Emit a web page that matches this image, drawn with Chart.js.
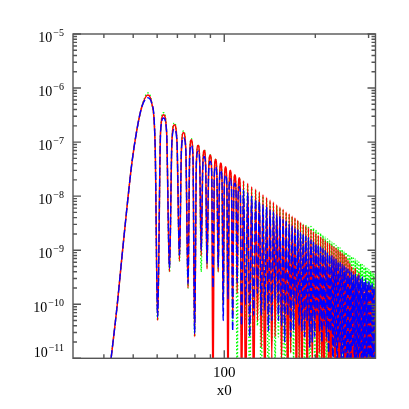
<!DOCTYPE html>
<html>
<head>
<meta charset="utf-8">
<script src="https://cdn.jsdelivr.net/npm/chart.js@4"></script>
<style>
  html, body { margin: 0; padding: 0; background: #fff; }
  canvas { display: block; }
</style>
</head>
<body>
<canvas id="chart" width="409" height="409"></canvas>
<script>
// first lobe, rising and falling sides (shared by the three curves)
const riseX = [41.0, 42.3, 44.2, 45.9, 47.7, 49.5, 51.4, 53.4];
const riseY = [2.5e-12, 1.05e-11, 8.9e-11, 7.6e-10, 6.3e-9, 4.1e-8, 1.66e-7, 4.5e-7];
const fallX = [57.6, 59.1];
const fallY = [5.2e-7, 8.1e-8];

// lobe maxima positions and zero crossings
const peakX = [55.9, 63.0, 68.4, 73.3, 77.8, 82.0, 85.9, 89.9, 93.6, 97.4,
  101.0, 104.7, 108.4, 112.1, 115.8, 119.5, 123.2, 126.9, 130.6, 134.3,
  138.0, 141.7, 145.4, 149.1, 152.8, 156.5, 160.2, 163.9, 167.6, 171.3,
  175.0, 178.7, 182.4, 186.1, 189.8, 193.5, 197.2, 200.9, 204.6, 208.3,
  212.0, 215.7, 219.4, 223.1, 226.8, 230.5, 234.2, 237.9, 241.6, 245.3,
  249.0, 252.7, 256.4, 260.1, 263.8, 267.5, 271.2, 274.9, 278.6, 282.3,
  286.0, 289.7, 293.4, 297.1, 300.8, 304.5, 308.2, 311.9, 315.6];
const zeroX = [60.2, 65.9, 71.1, 75.9, 79.8, 83.9, 87.7, 91.8, 95.5,
  99.2, 102.9, 106.6, 110.3, 114.0, 117.7, 121.4, 125.1, 128.8, 132.5,
  136.2, 139.9, 143.6, 147.3, 151.0, 154.7, 158.4, 162.1, 165.8, 169.5,
  173.2, 176.9, 180.6, 184.3, 188.0, 191.7, 195.4, 199.1, 202.8, 206.5,
  210.2, 213.9, 217.6, 221.3, 225.0, 228.7, 232.4, 236.1, 239.8, 243.5,
  247.2, 250.9, 254.6, 258.3, 262.0, 265.7, 269.4, 273.1, 276.8, 280.5,
  284.2, 287.9, 291.6, 295.3, 299.0, 302.7, 306.4, 310.1, 313.8];

// shoulders of the wide lobes 2..14
const shoulderLX = [61.6, 67.15, 72.2, 76.85, 80.9, 84.9, 88.8, 92.7, 96.45, 100.1, 103.8, 107.5, 111.2];
const shoulderRX = [64.45, 69.75, 74.6, 78.8, 82.95, 86.8, 90.85, 94.55, 98.3, 101.95, 105.65, 109.35, 113.05];
const shoulderY = [1.6e-7, 1.05e-7, 7.5e-8, 5.5e-8, 4.3e-8, 3.5e-8, 2.9e-8, 2.4e-8, 2.0e-8, 1.75e-8, 1.5e-8, 1.25e-8, 1.1e-8];

const redPeaks = [7.4e-7, 3.2e-7, 2.1e-7, 1.5e-7, 1.1e-7, 8.7e-8, 7.1e-8, 5.8e-8, 4.8e-8, 4.1e-8,
  3.5e-8, 3.0e-8, 2.5e-8, 2.2e-8, 1.95e-8, 1.74e-8, 1.51e-8, 1.35e-8, 1.2e-8, 1.07e-8,
  9.5e-9, 8.5e-9, 7.8e-9, 6.9e-9, 6.3e-9, 5.75e-9, 5.1e-9, 4.7e-9, 4.3e-9, 4.0e-9,
  3.6e-9, 3.3e-9, 3.0e-9, 2.8e-9, 2.6e-9, 2.4e-9, 2.2e-9, 2.05e-9, 1.9e-9, 1.78e-9,
  1.66e-9, 1.5e-9, 1.4e-9, 1.32e-9, 1.23e-9, 1.17e-9, 1.1e-9, 1.02e-9, 9.5e-10, 8.9e-10,
  8.3e-10, 7.6e-10, 6.6e-10, 5.75e-10, 5.0e-10, 4.2e-10, 4.7e-10, 3.4e-10, 3.8e-10, 2.6e-10,
  3.0e-10, 2.4e-10, 2.6e-10, 2.1e-10, 2.35e-10, 1.9e-10, 2.1e-10, 1.66e-10, 1.8e-10];
const bluePeaks = [6.6e-7, 2.8e-7, 1.74e-7, 1.2e-7, 8.7e-8, 6.8e-8, 5.4e-8, 4.4e-8, 3.5e-8, 3.0e-8,
  2.45e-8, 2.1e-8, 1.74e-8, 1.5e-8, 1.29e-8, 1.15e-8, 1.0e-8, 8.7e-9, 7.9e-9, 6.9e-9,
  6.3e-9, 5.5e-9, 5.1e-9, 4.5e-9, 4.2e-9, 3.7e-9, 3.4e-9, 3.0e-9, 2.8e-9, 2.5e-9,
  2.4e-9, 2.1e-9, 2.0e-9, 1.82e-9, 1.7e-9, 1.55e-9, 1.45e-9, 1.32e-9, 1.26e-9, 1.15e-9,
  1.07e-9, 9.8e-10, 9.1e-10, 8.3e-10, 7.9e-10, 7.2e-10, 6.8e-10, 6.2e-10, 5.9e-10, 5.4e-10,
  5.1e-10, 4.7e-10, 4.5e-10, 4.1e-10, 3.9e-10, 3.5e-10, 3.6e-10, 3.2e-10, 3.4e-10, 2.9e-10,
  3.2e-10, 2.6e-10, 2.95e-10, 2.4e-10, 2.75e-10, 2.2e-10, 2.5e-10, 2.0e-10, 2.3e-10];
const greenPeaks = [8.1e-7, 3.5e-7, 2.25e-7, 1.6e-7, 1.15e-7, 8.9e-8, 7.2e-8, 5.8e-8, 4.8e-8, 4.0e-8,
  3.2e-8, 2.75e-8, 2.35e-8, 2.1e-8, 1.82e-8, 1.62e-8, 1.41e-8, 1.26e-8, 1.12e-8, 1.0e-8,
  8.9e-9, 7.9e-9, 7.2e-9, 6.5e-9, 5.9e-9, 5.4e-9, 4.9e-9, 4.5e-9, 4.1e-9, 3.8e-9,
  3.5e-9, 3.2e-9, 3.0e-9, 2.9e-9, 2.8e-9, 2.75e-9, 2.55e-9, 2.35e-9, 2.2e-9, 2.05e-9,
  1.86e-9, 1.74e-9, 1.62e-9, 1.51e-9, 1.41e-9, 1.32e-9, 1.23e-9, 1.15e-9, 1.1e-9, 1.02e-9,
  9.5e-10, 9.1e-10, 8.5e-10, 7.9e-10, 7.6e-10, 7.1e-10, 6.8e-10, 6.3e-10, 6.0e-10, 5.6e-10,
  5.4e-10, 5.1e-10, 4.8e-10, 4.6e-10, 4.4e-10, 4.1e-10, 3.9e-10, 3.7e-10, 3.55e-10];

const blueTroughs = [5.8e-11, 4.7e-10, 8.1e-10, 2.4e-10, 2.9e-11, 1.0e-9, 5.6e-10, 2.0e-10, 4.9e-10, 5.0e-11,
  1.26e-10, 3.2e-11, 2.5e-10, 4.0e-11, 1.0e-10, 2.5e-11, 6.3e-11, 1.6e-10, 6.3e-11, 7.9e-11,
  3.2e-11, 5.0e-11, 1.26e-10, 5.0e-11, 4.0e-11, 2.0e-11, 6.3e-11, 2.5e-11, 3.2e-11, 1.0e-10,
  4.0e-11, 3.2e-11, 2.5e-11, 5.0e-11, 1.6e-11, 2.0e-11, 2.5e-11, 6.3e-11, 3.2e-11, 2.0e-11,
  4.0e-11, 2.5e-11, 1.26e-11, 3.2e-11, 5.0e-12, 1.6e-11, 2.5e-12, 2.0e-11, 7.9e-12, 3.2e-12,
  1.26e-11, 5.0e-12, 1.0e-11, 2.5e-12, 1.6e-11, 4.0e-12, 7.9e-12, 2.0e-12, 1.26e-11, 3.2e-12,
  6.3e-12, 2.5e-12, 1.0e-11, 4.0e-12, 2.0e-12, 6.3e-12, 3.2e-12, 5.0e-12];
const redTroughs = [5.0e-11, 4.0e-10, 6.3e-10, 2.0e-10, 2.5e-11, 7.9e-10, 4.5e-10, 1e-12, 4.0e-10, 1.0e-10,
  1e-12, 6.3e-11, 1.6e-10, 1e-12, 1e-12, 3.2e-11, 1e-12, 5.0e-11, 1.6e-11, 1e-12,
  4.0e-11, 1.0e-11, 2.5e-11, 6.3e-11, 7.9e-12, 3.2e-11, 1e-12, 1.26e-11, 4.0e-11, 1e-12,
  1.0e-11, 1e-12, 2.5e-11, 1e-12, 1.6e-11, 6.3e-12, 3.2e-11, 1e-12, 1.26e-11, 5.0e-12,
  1e-12, 2.0e-11, 4.0e-12, 1e-12, 1.26e-11, 3.2e-12, 1.0e-11, 1e-12, 5.0e-12, 1.26e-11,
  1e-12, 4.0e-12, 1.0e-11, 1e-12, 5.0e-12, 2.5e-12, 1e-12, 6.3e-12, 3.2e-12, 1e-12,
  7.9e-12, 2.0e-12, 1e-12, 4.0e-12, 1.6e-12, 1e-12, 5.0e-12, 2.0e-12];
const greenTroughs = [5.0e-11, 4.0e-10, 6.3e-10, 2.0e-10, 2.5e-11, 4.0e-10, 5.0e-10, 1.6e-10, 4.0e-10, 1.0e-10,
  7.9e-11, 4.0e-11, 1e-12, 2.5e-11, 5.0e-11, 1e-12, 1.6e-11, 4.0e-11, 1e-12, 1.26e-11,
  1e-12, 2.0e-11, 7.9e-12, 2.5e-11, 5.0e-12, 1e-12, 1e-12, 1.26e-11, 1.0e-11, 2.0e-11,
  4.0e-12, 1.6e-11, 3.2e-12, 1.0e-11, 1e-12, 1.26e-11, 5.0e-12, 1.0e-11, 1e-12, 6.3e-12,
  1.26e-11, 2.5e-12, 1e-12, 7.9e-12, 3.2e-12, 1e-12, 6.3e-12, 4.0e-12, 1e-12, 5.0e-12,
  2.5e-12, 1e-12, 6.3e-12, 3.2e-12, 1e-12, 5.0e-12, 2.0e-12, 1e-12, 4.0e-12, 2.5e-12,
  1e-12, 3.2e-12, 1.6e-12, 1e-12, 2.5e-12, 1e-12, 3.2e-12, 1.6e-12];

// axis ticks and labels
const xTicks = [40, 50, 60, 70, 80, 90, 100, 200, 300];
const xLabels = {100: '100'};
const yExponents = [-5, -6, -7, -8, -9, -10, -11];
const xTitle = 'x0';

function buildSeries(peaks, troughs) {
  const pts = riseX.map((x, i) => ({x: x, y: riseY[i]}));
  pts.push({x: peakX[0], y: peaks[0]});
  fallX.forEach((x, i) => pts.push({x: x, y: fallY[i]}));
  for (let k = 1; k < peakX.length; k++) {
    pts.push({x: zeroX[k - 1], y: troughs[k - 1]});
    const s = k - 1;
    if (s < shoulderY.length) pts.push({x: shoulderLX[s], y: shoulderY[s]});
    pts.push({x: peakX[k], y: peaks[k]});
    if (s < shoulderY.length) pts.push({x: shoulderRX[s], y: shoulderY[s]});
  }
  return pts;
}

const axesPlugin = {
  id: 'smAxes',
  afterDraw(chart) {
    const ctx = chart.ctx;
    const a = chart.chartArea;
    const xs = chart.scales.x, ys = chart.scales.y;
    ctx.save();
    ctx.strokeStyle = '#555';
    ctx.lineWidth = 1.4;
    ctx.strokeRect(a.left, a.top, a.right - a.left, a.bottom - a.top);

    ctx.beginPath();
    xTicks.forEach(v => {
      const px = xs.getPixelForValue(v);
      const len = xLabels[v] ? 8 : 4;
      ctx.moveTo(px, a.bottom); ctx.lineTo(px, a.bottom - len);
      ctx.moveTo(px, a.top); ctx.lineTo(px, a.top + len);
    });
    yExponents.forEach(e => {
      for (let m = 1; m <= 9; m++) {
        if (m > 1 && e - 1 < -11) continue;
        const py = ys.getPixelForValue(m === 1 ? Math.pow(10, e) : m * Math.pow(10, e - 1));
        const len = m === 1 ? 8 : 4;
        ctx.moveTo(a.left, py); ctx.lineTo(a.left + len, py);
        ctx.moveTo(a.right, py); ctx.lineTo(a.right - len, py);
      }
    });
    ctx.stroke();

    ctx.fillStyle = '#000';
    ctx.textBaseline = 'alphabetic';
    yExponents.forEach((e, i) => {
      let py = ys.getPixelForValue(Math.pow(10, e));
      if (i === yExponents.length - 1) py -= 9;
      const expText = '\u2212' + Math.abs(e);
      ctx.font = '10px "Liberation Serif"';
      const w = ctx.measureText(expText).width;
      ctx.textAlign = 'left';
      ctx.fillText(expText, 64 - w, py + 2);
      ctx.font = '14px "Liberation Serif"';
      ctx.textAlign = 'right';
      ctx.fillText('10', 64 - w - 1, py + 8);
    });

    ctx.font = '15px "Liberation Serif"';
    ctx.textAlign = 'center';
    Object.keys(xLabels).forEach(k => {
      ctx.fillText(xLabels[k], xs.getPixelForValue(Number(k)), 377);
    });
    ctx.fillText(xTitle, (a.left + a.right) / 2, 395);
    ctx.restore();
  }
};

const common = {
  showLine: true,
  pointRadius: 0,
  borderWidth: 1.5,
  cubicInterpolationMode: 'monotone',
  fill: false
};

new Chart(document.getElementById('chart').getContext('2d'), {
  type: 'scatter',
  data: {
    datasets: [
      Object.assign({}, common, {
        label: 'blue', data: buildSeries(bluePeaks, blueTroughs),
        borderColor: '#0000ff', borderDash: [8, 3], borderWidth: 1.4
      }),
      Object.assign({}, common, {
        label: 'red', data: buildSeries(redPeaks, redTroughs),
        borderColor: '#ff0000'
      }),
      Object.assign({}, common, {
        label: 'green', data: buildSeries(greenPeaks, greenTroughs),
        borderColor: '#00ff00', borderDash: [1.5, 2], borderWidth: 1.4
      })
    ]
  },
  options: {
    responsive: false,
    devicePixelRatio: 1,
    animation: false,
    events: [],
    layout: { padding: { left: 73, top: 34, right: 33.5, bottom: 50.7 } },
    plugins: { legend: { display: false }, tooltip: { enabled: false } },
    scales: {
      x: { type: 'logarithmic', min: 31.62, max: 316.2, display: false },
      y: { type: 'logarithmic', min: 1e-11, max: 1e-5, display: false }
    }
  },
  plugins: [axesPlugin]
});
</script>
</body>
</html>
